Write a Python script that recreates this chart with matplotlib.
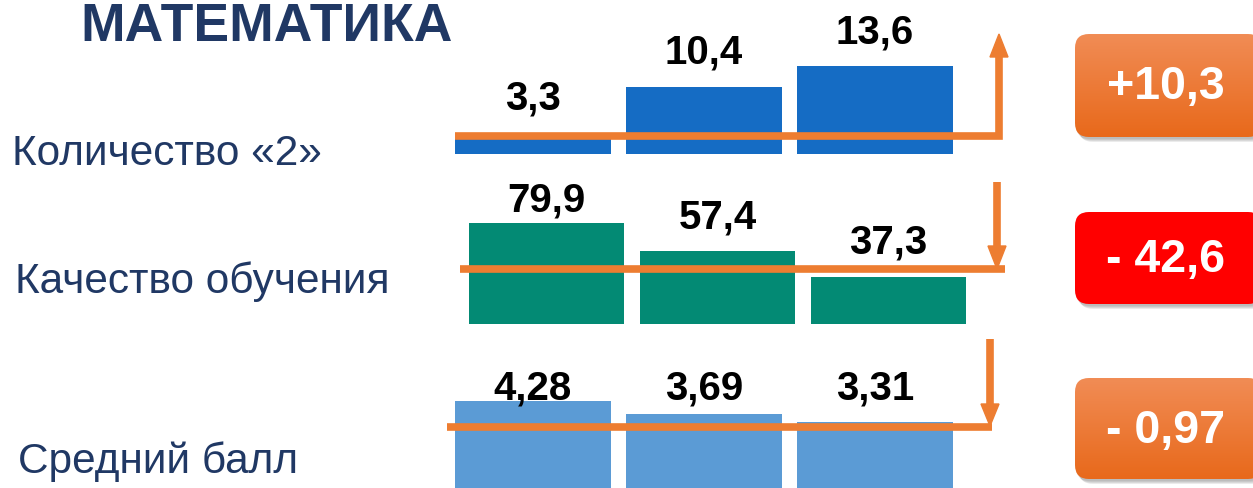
import matplotlib
matplotlib.use("Agg")
import matplotlib.pyplot as plt
import numpy as np
from matplotlib.patches import FancyBboxPatch, Polygon

# data
years = ["2019", "2020", "2021"]
count_two = [3.3, 10.4, 13.6]
quality = [79.9, 57.4, 37.3]
avg_score = [4.28, 3.69, 3.31]
row_names = ["Количество «2»", "Качество обучения", "Средний балл"]
deltas = ["+10,3", "- 42,6", "- 0,97"]

W, H = 1253, 489
fig = plt.figure(figsize=(W / 100, H / 100), dpi=100)

NAVY = "#203864"
ORANGE = "#ED7D31"
FONT = "Liberation Sans"


def px_axes(left, top, width, height):
    # axes placed in pixel coords measured from the top-left corner
    return fig.add_axes([left / W, 1 - (top + height) / H, width / W, height / H])


def fmt(v):
    return f"{v:g}".replace(".", ",")


def bar_row(values, color, left, base, px_per_unit, cap_px):
    height = 200
    ax = px_axes(left, base - height, 513, height)
    ax.set_xlim(-0.5, 2.5)
    ax.set_ylim(0, height / px_per_unit)
    x = np.arange(len(values))
    ax.bar(x, values, width=0.912, color=color)
    for xi, v in zip(x, values):
        top_px = base - v * px_per_unit
        lab_px = max(top_px - 35, cap_px)
        ax.text(xi, (base - lab_px) / px_per_unit, fmt(v), ha="center", va="center",
                fontsize=29, fontweight="bold", family=FONT, color="black")
    ax.axis("off")
    ax.patch.set_alpha(0)
    return ax


bar_row(count_two, "#156CC4", 447.5, 155, 6.47, 0)
bar_row(quality, "#038A74", 461, 325, 1.264, 200)
bar_row(avg_score, "#5B9BD5", 447.5, 496, 22.0, 388)

# overlay in pixel coordinates
ov = fig.add_axes([0, 0, 1, 1])
ov.set_xlim(0, W)
ov.set_ylim(H, 0)
ov.axis("off")
ov.patch.set_alpha(0)

ov.text(80, 41, "МАТЕМАТИКА", fontsize=38.5, fontweight="bold", family=FONT,
        color=NAVY, ha="left", va="baseline")

label_pos = [(12, 154), (15, 282), (18, 462)]
for (lx, ly), name in zip(label_pos, row_names):
    ov.text(lx, ly, name, fontsize=30.5, family=FONT, color=NAVY, ha="left", va="center")

# trend lines with arrows
lw = 5.5
# row 1: up
ov.plot([455, 999, 999], [137, 137, 55], color=ORANGE, lw=lw, solid_joinstyle="miter",
        solid_capstyle="butt")
ov.add_patch(Polygon([[990, 58], [1008, 58], [999, 35]], closed=True, color=ORANGE))
# row 2: down
ov.plot([460, 1005], [270, 270], color=ORANGE, lw=lw, solid_capstyle="butt")
ov.plot([997, 997], [183, 250], color=ORANGE, lw=lw, solid_capstyle="butt")
ov.add_patch(Polygon([[988, 247], [1006, 247], [997, 270]], closed=True, color=ORANGE))
# row 3: down
ov.plot([447, 992], [428, 428], color=ORANGE, lw=lw, solid_capstyle="butt")
ov.plot([990, 990], [340, 408], color=ORANGE, lw=lw, solid_capstyle="butt")
ov.add_patch(Polygon([[981, 405], [999, 405], [990, 427]], closed=True, color=ORANGE))

# delta boxes
boxes = [(35, 138, ("#F18C55", "#E8691B")),
         (213, 305, ("#FF0000", "#FF0000")),
         (379, 480, ("#F18C55", "#E8691B"))]
bx0, bx1 = 1075, 1262
for (y0, y1, (c_top, c_bot)), txt in zip(boxes, deltas):
    # soft shadow
    for k, a in enumerate([0.06, 0.07, 0.08, 0.08]):
        sh = FancyBboxPatch((bx0 + 1 + k, y0 + 2 + k), bx1 - bx0, y1 - y0,
                            boxstyle="round,pad=0,rounding_size=14",
                            fc="black", ec="none", alpha=a, zorder=1)
        ov.add_patch(sh)
    box = FancyBboxPatch((bx0, y0), bx1 - bx0, y1 - y0,
                         boxstyle="round,pad=0,rounding_size=14",
                         fc="none", ec="none", zorder=2)
    ov.add_patch(box)
    grad = np.linspace(0, 1, 100)[:, None]
    cmap = matplotlib.colors.LinearSegmentedColormap.from_list("g", [c_top, c_bot])
    im = ov.imshow(grad, cmap=cmap, extent=(bx0, bx1, y1, y0), aspect="auto",
                   zorder=2, interpolation="bilinear")
    im.set_clip_path(box)
    ov.text((bx0 + 1253) / 2 + 2, (y0 + y1) / 2 + 1, txt, fontsize=33.5, fontweight="bold",
            family=FONT, color="white", ha="center", va="center", zorder=3)

ov.set_xlim(0, W)
ov.set_ylim(H, 0)

fig.savefig("out.png", dpi=100)
